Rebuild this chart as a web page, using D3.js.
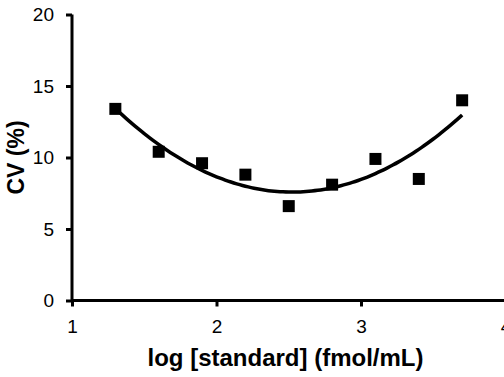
<!DOCTYPE html>
<html>
<head>
<meta charset="utf-8">
<script src="https://cdn.jsdelivr.net/npm/d3@7"></script>
<style>
  body { margin: 0; background: #fff; }
  svg { display: block; font-family: "Liberation Sans", Arial, sans-serif; }
</style>
</head>
<body>
<div id="chart"></div>
<script>
// data
const logStd = [1.3, 1.6, 1.9, 2.2, 2.5, 2.8, 3.1, 3.4, 3.7];
const cv = [13.4, 10.4, 9.6, 8.8, 6.6, 8.1, 9.9, 8.5, 14.0];
const xTicks = [1, 2, 3, 4];
const yTicks = [0, 5, 10, 15, 20];

const width = 504, height = 377;

const svg = d3.select("#chart")
  .append("svg")
  .attr("width", width)
  .attr("height", height);

const x = d3.scaleLinear().domain([1, 4]).range([72, 505.5]);
const y = d3.scaleLinear().domain([0, 20]).range([300.5, 14.5]);

// quadratic least-squares trendline, like a spreadsheet polynomial fit
function quadFit(xs, ys) {
  let s = [0, 0, 0, 0, 0], t = [0, 0, 0];
  xs.forEach((xv, i) => {
    for (let k = 0; k < 5; k++) s[k] += Math.pow(xv, k);
    for (let k = 0; k < 3; k++) t[k] += Math.pow(xv, k) * ys[i];
  });
  // solve 3x3 normal equations
  const M = [
    [s[0], s[1], s[2], t[0]],
    [s[1], s[2], s[3], t[1]],
    [s[2], s[3], s[4], t[2]]
  ];
  for (let i = 0; i < 3; i++) {
    for (let j = i + 1; j < 3; j++) {
      const f = M[j][i] / M[i][i];
      for (let k = i; k < 4; k++) M[j][k] -= f * M[i][k];
    }
  }
  const c = [0, 0, 0];
  for (let i = 2; i >= 0; i--) {
    let v = M[i][3];
    for (let k = i + 1; k < 3; k++) v -= M[i][k] * c[k];
    c[i] = v / M[i][i];
  }
  return xv => c[0] + c[1] * xv + c[2] * xv * xv;
}

const fit = quadFit(logStd, cv);
const curveXs = d3.range(0, 61).map(i => logStd[0] + (logStd[logStd.length - 1] - logStd[0]) * i / 60);

// axes
const xAxis = svg.append("g")
  .attr("transform", `translate(0,${y(0)})`)
  .call(d3.axisBottom(x).tickValues(xTicks).tickSize(6).tickPadding(13).tickFormat(d3.format("d")));

const yAxis = svg.append("g")
  .attr("transform", `translate(${x(1)},0)`)
  .call(d3.axisLeft(y).tickValues(yTicks).tickSize(6).tickPadding(12).tickFormat(d3.format("d")));

[xAxis, yAxis].forEach(g => {
  g.select(".domain").attr("stroke", "#000").attr("stroke-width", 3);
  g.selectAll(".tick line").attr("stroke", "#000").attr("stroke-width", 3);
  g.selectAll(".tick text")
    .attr("fill", "#000")
    .style("font-size", "19px")
    .style("font-family", "Liberation Sans, Arial, sans-serif");
});
xAxis.select(".domain").attr("d", `M${x(1)},0H${x(4)}`);
yAxis.select(".domain").attr("d", `M0,${y(0)}V${y(20)}`);

// trendline
svg.append("path")
  .datum(curveXs)
  .attr("fill", "none")
  .attr("stroke", "#000")
  .attr("stroke-width", 3.5)
  .attr("d", d3.line().x(d => x(d)).y(d => y(fit(d))).curve(d3.curveBasis));

// markers
const sz = 12;
svg.selectAll("rect.pt")
  .data(logStd)
  .join("rect")
  .attr("class", "pt")
  .attr("x", d => x(d) - sz / 2)
  .attr("y", (d, i) => y(cv[i]) - sz / 2)
  .attr("width", sz)
  .attr("height", sz)
  .attr("fill", "#000");

// axis titles
svg.append("text")
  .attr("x", 285.5)
  .attr("y", 366)
  .attr("text-anchor", "middle")
  .style("font-size", "24px")
  .style("font-weight", "bold")
  .text("log [standard] (fmol/mL)");

svg.append("text")
  .attr("transform", `translate(24,${y(10)}) rotate(-90)`)
  .attr("text-anchor", "middle")
  .style("font-size", "23px")
  .style("font-weight", "bold")
  .text("CV (%)");
</script>
</body>
</html>
